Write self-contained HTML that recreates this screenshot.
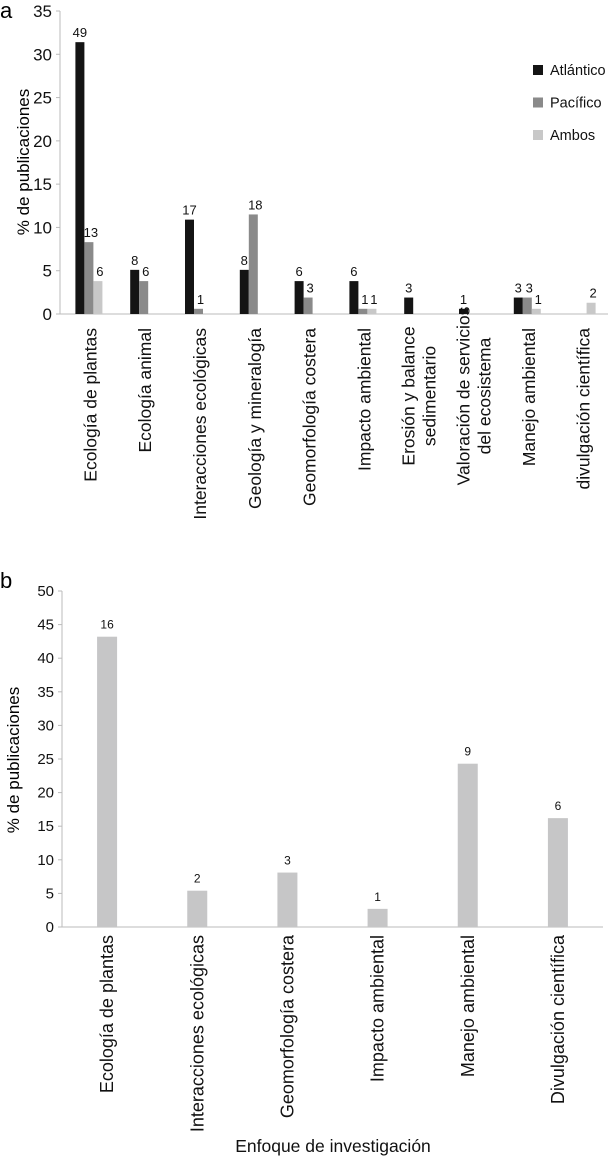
<!DOCTYPE html>
<html><head><meta charset="utf-8"><style>
html,body{margin:0;padding:0;background:#fff;}
svg{display:block;font-family:"Liberation Sans",Arial,sans-serif;}
</style></head><body>
<svg id="chart" width="611" height="1159" viewBox="0 0 611 1159" xmlns="http://www.w3.org/2000/svg">
<text x="0" y="18" font-size="22">a</text>
<text x="0" y="588" font-size="22">b</text>
<g id="ga"></g>
<g id="gb"></g>
</svg>
<script>
const catsA = [["Ecología de plantas"],["Ecología animal"],["Interacciones ecológicas"],["Geología y mineralogía"],["Geomorfología costera"],["Impacto ambiental"],["Erosión y balance","sedimentario"],["Valoración de servicios","del ecosistema"],["Manejo ambiental"],["divulgación científica"]];
const atlantico = [31.4,5.1,10.9,5.1,3.8,3.8,1.9,0.6,1.9,0];
const pacifico = [8.3,3.8,0.6,11.5,1.9,0.6,0,0,1.9,0];
const ambos = [3.8,0,0,0,0,0.6,0,0,0.6,1.3];
const atlLabels = ["49","8","17","8","6","6","3","1","3",""];
const pacLabels = ["13","6","1","18","3","1","","","3",""];
const ambLabels = ["6","","","","","1","","","1","2"];
const ticksA = [0,5,10,15,20,25,30,35];
const catsB = ["Ecología de plantas","Interacciones ecológicas","Geomorfología costera","Impacto ambiental","Manejo ambiental","Divulgación científica"];
const valsB = [43.2,5.4,8.1,2.7,24.3,16.2];
const labelsB = ["16","2","3","1","9","6"];
const ticksB = [0,5,10,15,20,25,30,35,40,45,50];

const NS="http://www.w3.org/2000/svg";
function mk(parent,tag,attrs,text){const e=document.createElementNS(NS,tag);for(const k in attrs)e.setAttribute(k,attrs[k]);if(text!==undefined)e.textContent=text;parent.appendChild(e);return e;}

// Chart A
const ga=document.getElementById('ga');
const A={x0:60,x1:608,y0:314,ymax:35,ytop:11};
const yA=v=>A.y0-(v/A.ymax)*(A.y0-A.ytop);
const bwA=(A.x1-A.x0)/catsA.length;
const xA=i=>A.x0+bwA*(i+0.5);
let l=mk(ga,'line',{x1:A.x0,y1:A.ytop,x2:A.x0,y2:A.y0,stroke:'#bbb','stroke-width':1});


l=mk(ga,'line',{x1:A.x0-4,y1:A.y0,x2:A.x1,y2:A.y0,stroke:'#bbb','stroke-width':1});


ticksA.forEach(t=>{
  const tk=mk(ga,'line',{x1:A.x0-4,y1:yA(t),x2:A.x0,y2:yA(t),stroke:'#bbb'});
  
  
  const tx=mk(ga,'text',{x:A.x0-8,y:yA(t)+6,'font-size':17,'text-anchor':'end',fill:'#111'},t);
  
  
});
let yt=mk(ga,'text',{x:0,y:0,'font-size':17,'text-anchor':'middle',transform:'translate(29,162) rotate(-90)'},'% de publicaciones');


const series=[{v:atlantico,lab:atlLabels,c:'#141414',n:'atlantico'},{v:pacifico,lab:pacLabels,c:'#8a8a8a',n:'pacifico'},{v:ambos,lab:ambLabels,c:'#c8c8c8',n:'ambos'}];
const barW=9;
catsA.forEach((c,i)=>{
  series.forEach((s,k)=>{
    const bx=xA(i)-12+k*barW;
    const v=s.v[i];
    if(v>0){
      const r=mk(ga,'rect',{x:bx,y:yA(v),width:barW,height:A.y0-yA(v),fill:s.c});
      
      
    }
    if(s.lab[i]!==''){
      const t=mk(ga,'text',{x:bx+barW/2+(k>0?2:0),y:yA(v)-5,'font-size':13,'text-anchor':'middle',fill:'#111'},s.lab[i]);
      
      
    }
  });
  const lines=c;
  const lh=21;
  lines.forEach((ln,j)=>{
    const off=(j-(lines.length-1)/2)*lh;
    const cx=xA(i)+3+off;
    const t=mk(ga,'text',{x:0,y:0,'font-size':17.5,'text-anchor':lines.length>1?'middle':'end',transform:lines.length>1?`translate(${cx+6},${396}) rotate(-90)`:`translate(${cx+6},328) rotate(-90)`,fill:'#111'},ln);
    
    
  });
});
// legend
const legNames=["Atlántico","Pacífico","Ambos"];
legNames.forEach((n,k)=>{
  const y=70+k*32.5;
  const r=mk(ga,'rect',{x:533,y:y-5,width:10,height:10,fill:series[k].c});
  
  
  const t=mk(ga,'text',{x:550,y:y+5,'font-size':14.5,fill:'#111'},n);
  
  
});

// Chart B
const gb=document.getElementById('gb');
const B={x0:62,x1:603,y0:927,ymax:50,ytop:591};
const yB=v=>B.y0-(v/B.ymax)*(B.y0-B.ytop);
const bwB=(B.x1-B.x0)/catsB.length;
const xB=i=>B.x0+bwB*(i+0.5);
l=mk(gb,'line',{x1:B.x0,y1:B.ytop,x2:B.x0,y2:B.y0,stroke:'#bbb'});


l=mk(gb,'line',{x1:B.x0-4,y1:B.y0,x2:B.x1,y2:B.y0,stroke:'#bbb'});


ticksB.forEach(t=>{
  const tk=mk(gb,'line',{x1:B.x0-4,y1:yB(t),x2:B.x0,y2:yB(t),stroke:'#bbb'});
  
  
  const tx=mk(gb,'text',{x:B.x0-8,y:yB(t)+5,'font-size':15,'text-anchor':'end',fill:'#111'},t);
  
  
});
yt=mk(gb,'text',{x:0,y:0,'font-size':17,'text-anchor':'middle',transform:'translate(19,760) rotate(-90)'},'% de publicaciones');


catsB.forEach((c,i)=>{
  const v=valsB[i];
  const r=mk(gb,'rect',{x:xB(i)-10,y:yB(v),width:20,height:B.y0-yB(v),fill:'#c6c6c7'});
  
  
  const t=mk(gb,'text',{x:xB(i),y:yB(v)-8,'font-size':12,'text-anchor':'middle',fill:'#111'},labelsB[i]);
  
  
  const cl=mk(gb,'text',{x:0,y:0,'font-size':18,'text-anchor':'end',transform:`translate(${xB(i)+6},935) rotate(-90)`,fill:'#111'},c);
  
  
});
const xt=mk(gb,'text',{x:333,y:1152,'font-size':17.5,'text-anchor':'middle',fill:'#111'},'Enfoque de investigación');


</script>
</body></html>
